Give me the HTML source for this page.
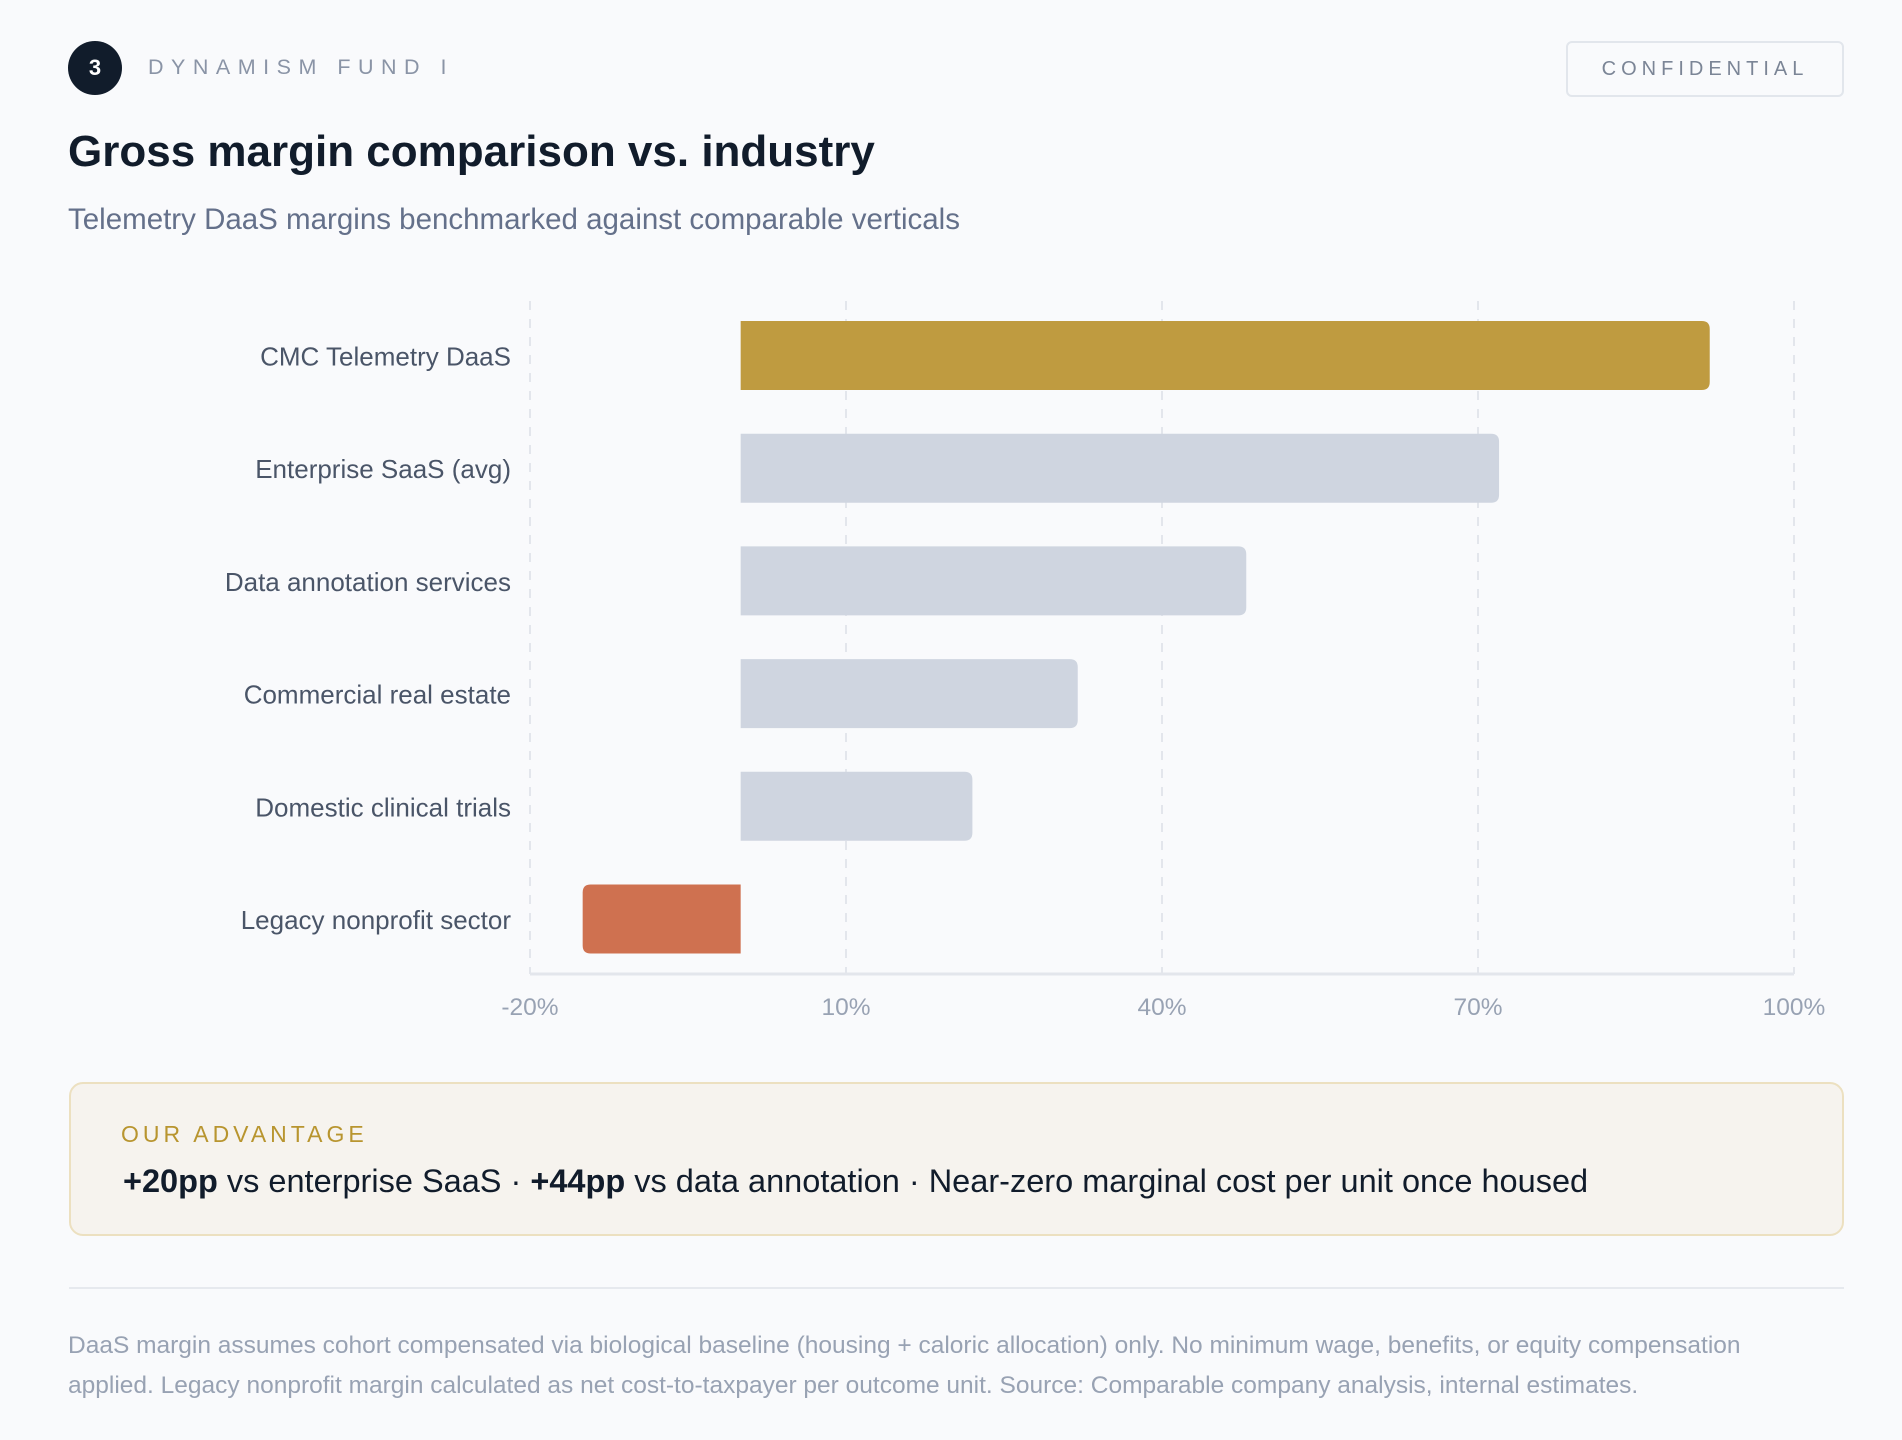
<!DOCTYPE html>
<html><head><meta charset="utf-8"><style>
body{margin:0;width:1902px;height:1440px;background:#f9fafc;font-family:"Liberation Sans",sans-serif;position:relative;overflow:hidden}
.abs{position:absolute}
</style></head><body>
<div class="abs" style="left:68px;top:41px;width:54px;height:54px;border-radius:50%;background:#111c2b;color:#fff;font-size:22px;font-weight:bold;display:flex;align-items:center;justify-content:center">3</div>
<div class="abs" style="left:148px;top:55px;font-size:21.5px;letter-spacing:7.5px;color:#8a94a6">DYNAMISM FUND I</div>
<div class="abs" style="left:1566px;top:41px;width:278px;height:56px;border:2px solid #e2e6ec;border-radius:6px;box-sizing:border-box;display:flex;align-items:center;justify-content:center;font-size:20px;letter-spacing:5px;color:#7b8596">CONFIDENTIAL</div>
<div class="abs" style="left:68px;top:127px;font-size:44px;font-weight:bold;color:#111c2b">Gross margin comparison vs. industry</div>
<div class="abs" style="left:68px;top:203px;font-size:29.5px;color:#64708a">Telemetry DaaS margins benchmarked against comparable verticals</div>
<svg class="abs" style="left:0;top:0" width="1902" height="1060" id="chart"></svg>
<div class="abs" style="left:69px;top:1082px;width:1775px;height:154px;box-sizing:border-box;border:2px solid #ece0c0;border-radius:14px;background:#f6f3ee">
<div style="position:absolute;left:50px;top:37px;font-size:23px;letter-spacing:4px;color:#b8952f">OUR ADVANTAGE</div>
<div style="position:absolute;left:52px;top:79px;font-size:32.5px;color:#111c2b;white-space:nowrap"><b>+20pp</b> vs enterprise SaaS · <b>+44pp</b> vs data annotation · Near-zero marginal cost per unit once housed</div>
</div>
<div class="abs" style="left:69px;top:1287px;width:1775px;height:2px;background:#e6e9ee"></div>
<div class="abs" style="left:68px;top:1326px;width:1760px;font-size:24.5px;line-height:40px;color:#98a2b3">DaaS margin assumes cohort compensated via biological baseline (housing + caloric allocation) only. No minimum wage, benefits, or equity compensation applied. Legacy nonprofit margin calculated as net cost-to-taxpayer per outcome unit. Source: Comparable company analysis, internal estimates.</div>
<script>
const categories=["CMC Telemetry DaaS","Enterprise SaaS (avg)","Data annotation services","Commercial real estate","Domestic clinical trials","Legacy nonprofit sector"];
const values=[92,72,48,32,22,-15];
const ticks=[-20,10,40,70,100];
const colors=["#bf9b40","#cfd5e0","#cfd5e0","#cfd5e0","#cfd5e0","#cf7150"];
const NS="http://www.w3.org/2000/svg";
const svg=document.getElementById('chart');
const x0=530,x1=1794,vmin=-20,vmax=100;
const xs=v=>x0+(v-vmin)/(vmax-vmin)*(x1-x0);
const top0=321,step=112.7,bh=69;
const ys=i=>top0+i*step;
function mk(t,a){const e=document.createElementNS(NS,t);for(const k in a)e.setAttribute(k,a[k]);svg.appendChild(e);return e;}
ticks.forEach(t=>{
 const g=mk('line',{x1:xs(t),x2:xs(t),y1:301,y2:974,stroke:'#e3e6ec','stroke-width':2,'stroke-dasharray':'9 9'});
 
 
 const tx=mk('text',{x:xs(t),y:1015,'text-anchor':'middle','font-size':24.5,fill:'#98a2b3','font-family':'Liberation Sans'});
 tx.textContent=t+'%';
 
 
});
const ax=mk('line',{x1:x0,x2:x1,y1:974,y2:974,stroke:'#e3e6ec','stroke-width':3});


categories.forEach((c,i)=>{
 const v=values[i],a=Math.min(xs(0),xs(v)),w=Math.abs(xs(v)-xs(0)),y=ys(i);
 const r=8;
 let d;
 if(v>=0)d=`M${a},${y}H${a+w-r}Q${a+w},${y} ${a+w},${y+r}V${y+bh-r}Q${a+w},${y+bh} ${a+w-r},${y+bh}H${a}Z`;
 else d=`M${a+w},${y}H${a+r}Q${a},${y} ${a},${y+r}V${y+bh-r}Q${a},${y+bh} ${a+r},${y+bh}H${a+w}Z`;
 const b=mk('path',{d:d,fill:colors[i]});
 
 
 const t=mk('text',{x:511,y:y+bh/2+10,'text-anchor':'end','font-size':26,fill:'#4a5568','font-family':'Liberation Sans'});
 t.textContent=c;
 
 
});
</script>
</body></html>
